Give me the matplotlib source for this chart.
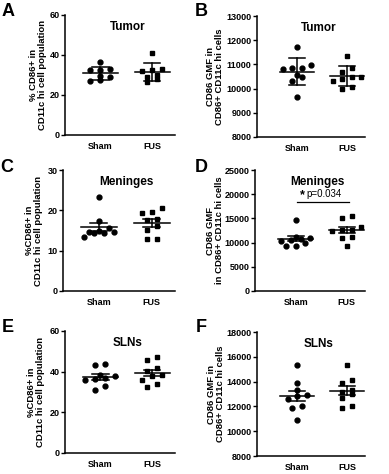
import matplotlib
matplotlib.use("Agg")
import matplotlib.pyplot as plt
import numpy as np

plt.rcParams['font.family'] = ['Liberation Sans', 'DejaVu Sans']
plt.rcParams['font.weight'] = 'bold'

groups = ["Sham", "FUS"]

# panel data
tumor_pct_sham = [36.5, 32.6, 32.4, 32.8, 29.2, 29.5, 27.0, 27.3]
tumor_pct_fus = [41.0, 33.0, 32.5, 32.0, 30.0, 29.0, 28.0, 26.5]
tumor_gmf_sham = [11730, 10870, 10820, 10850, 10990, 10550, 10500, 10300, 9670]
tumor_gmf_fus = [11350, 10850, 10700, 10500, 10500, 10400, 10300, 10050, 10000]
men_pct_sham = [23.2, 17.4, 15.6, 14.6, 14.4, 14.5, 15.0, 13.4, 14.7]
men_pct_fus = [20.5, 19.5, 19.3, 17.6, 17.8, 16.0, 15.2, 13.0, 13.0]
men_gmf_sham = [14600, 10900, 11100, 10800, 10500, 10400, 9400, 9300, 9900]
men_gmf_fus = [15500, 15000, 13300, 12700, 12600, 12400, 11100, 10900, 9300]
sln_pct_sham = [43.6, 43.4, 38.3, 38.0, 37.0, 36.2, 35.8, 33.0, 30.8]
sln_pct_fus = [47.0, 45.8, 42.0, 40.2, 38.3, 38.0, 36.0, 32.5, 34.0]
sln_gmf_sham = [15300, 13900, 13300, 12900, 12800, 12600, 12000, 11900, 10900]
sln_gmf_fus = [15300, 14100, 13900, 13300, 13200, 13000, 12700, 12000, 11900]

titles = ["Tumor", "Tumor", "Meninges", "Meninges", "SLNs", "SLNs"]
letters = ["A", "B", "C", "D", "E", "F"]
ylabels = ["% CD86+ in\nCD11c hi cell population",
           "CD86 GMF in\nCD86+ CD11c hi cells",
           "%CD86+ in\nCD11c hi cell population",
           "CD86 GMF\nin CD86+ CD11c hi cells",
           "%CD86+ in\nCD11c hi cell population",
           "CD86 GMF in\nCD86+ CD11c hi cells"]
yticks = [[0, 20, 40, 60],
          list(range(8000, 13001, 1000)),
          [0, 10, 20, 30],
          list(range(0, 25001, 5000)),
          [0, 20, 40, 60],
          list(range(8000, 18001, 2000))]
err_kind = ["sd", "sd", "sem", "sem", "sem", "sem"]
sig_text = "p=0.034"
sig_y = 18300

data = [(tumor_pct_sham, tumor_pct_fus), (tumor_gmf_sham, tumor_gmf_fus),
        (men_pct_sham, men_pct_fus), (men_gmf_sham, men_gmf_fus),
        (sln_pct_sham, sln_pct_fus), (sln_gmf_sham, sln_gmf_fus)]

W, H = 389, 474
# axes boxes in pixels: left, right, top, bottom
boxes = [(65, 175, 15, 135), (257, 365, 16, 137),
         (63, 175, 170, 291), (255, 365, 170, 291),
         (65, 175, 331, 453), (257, 365, 332, 456)]
label_off = [-27, -42, -29, -40, -29, -41]
letter_pos = [(8, 12), (201, 12), (7, 168), (201, 168), (8, 328), (201, 328)]
xlims = [(-0.68, 1.44), (-0.8, 1.36)]


def swarm(vals, rng, spacing=0.19):
    vals = np.asarray(vals, float)
    order = np.argsort(vals)
    offs = np.zeros(len(vals))
    thr = 0.04 * rng
    group = []
    for i in order:
        if group and (vals[i] - vals[group[0]] > thr or len(group) >= 4):
            k = len(group)
            offs[group] = (np.arange(k) - (k - 1) / 2) * spacing
            group = []
        group.append(i)
    k = len(group)
    offs[group] = (np.arange(k) - (k - 1) / 2) * spacing
    return offs


fig = plt.figure(figsize=(W / 100, H / 100), dpi=100)

for p in range(6):
    l, r, t, b = boxes[p]
    ax = fig.add_axes((l / W, 1 - b / H, (r - l) / W, (b - t) / H))
    lo, hi = yticks[p][0], yticks[p][-1]
    for g, (vals, mk) in enumerate(zip(data[p], ["o", "s"])):
        vals = np.asarray(vals, float)
        x = g + swarm(vals, hi - lo)
        ax.plot(x, vals, mk, color="black", ms=3.5 if mk == "o" else 3.3,
                clip_on=False, zorder=3)
        m = vals.mean()
        e = vals.std(ddof=1)
        if err_kind[p] == "sem":
            e = e / np.sqrt(len(vals))
        ax.plot([g - 0.34, g + 0.34], [m, m], color="black", lw=1.1, zorder=4)
        ax.plot([g, g], [m - e, m + e], color="black", lw=1.1, zorder=4)
        for yy in (m - e, m + e):
            ax.plot([g - 0.16, g + 0.16], [yy, yy], color="black", lw=1.1, zorder=4)
    ax.set_xlim(*xlims[p % 2])
    ax.set_ylim(lo, hi)
    ax.set_yticks(yticks[p])
    ax.set_xticks([0, 1])
    ax.set_xticklabels(groups)
    ax.tick_params(axis="x", length=0, pad=5, labelsize=6.5)
    ax.tick_params(axis="y", length=3, width=1, pad=1, labelsize=6.5)
    for s in ("top", "right"):
        ax.spines[s].set_visible(False)
    for s in ("left", "bottom"):
        ax.spines[s].set_linewidth(1.1)
    ax.text(0.57, 0.9, titles[p], transform=ax.transAxes, ha="center",
            va="center", fontsize=8.5, fontweight="bold")
    ax.set_ylabel(ylabels[p], fontsize=6.8, fontweight="bold", va="center",
                  linespacing=1.1)
    ax.yaxis.set_label_coords(label_off[p] / (r - l), 0.5)
    fig.text(letter_pos[p][0] / W, 1 - letter_pos[p][1] / H, letters[p],
             fontsize=13, fontweight="bold", ha="center", va="center")
    if p == 3:
        ax.plot([0.02, 1.04], [sig_y, sig_y], color="black", lw=0.9)
        ax.text(0.2, sig_y + 800, sig_text, ha="left", va="bottom",
                fontsize=7, fontweight="normal")
        ax.text(0.18, sig_y + 200, "*", ha="right", va="bottom",
                fontsize=9, fontweight="bold")

fig.savefig("out.png", dpi=100)
